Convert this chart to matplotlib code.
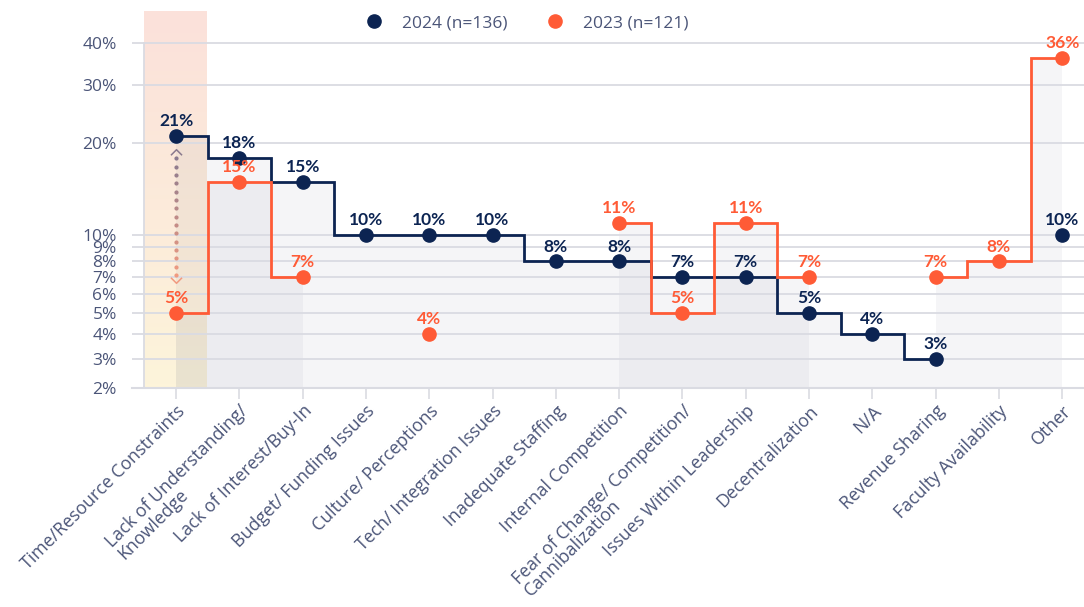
import numpy as np
import matplotlib
matplotlib.use("Agg")
import matplotlib.pyplot as plt
from matplotlib.path import Path
from matplotlib.colors import to_rgb

categories = [
    "Time/Resource Constraints",
    "Lack of Understanding/\nKnowledge",
    "Lack of Interest/Buy-In",
    "Budget/ Funding Issues",
    "Culture/ Perceptions",
    "Tech/ Integration Issues",
    "Inadequate Staffing",
    "Internal Competition",
    "Fear of Change/ Competition/\nCannibalization",
    "Issues Within Leadership",
    "Decentralization",
    "N/A",
    "Revenue Sharing",
    "Faculty Availability",
    "Other",
]
nan = np.nan
values_2024 = [21, 18, 15, 10, 10, 10, 8, 8, 7, 7, 5, 4, 3, nan, 10]
values_2023 = [5, 15, 7, nan, 4, nan, nan, 11, 5, 11, 7, nan, 7, 8, 36]
yticks = [2, 3, 4, 5, 6, 7, 8, 9, 10, 20, 30, 40]

NAVY = "#0c2452"
ORANGE = "#ff5b36"
TEXT = "#4b5578"
GRID = "#dadbe2"
FILL = "#5c6480"

plt.rcParams["font.family"] = ["Open Sans", "DejaVu Sans"]


def fwd(v):
    return np.log10(np.maximum(np.asarray(v, dtype=float) + 3, 1e-6))


def inv(u):
    return 10 ** np.asarray(u, dtype=float) - 3


def runs(vals):
    # split a series into runs of consecutive values (gaps are nan)
    out, cur = [], []
    for i, v in enumerate(vals):
        if np.isnan(v):
            if cur:
                out.append(cur)
            cur = []
        else:
            cur.append(i)
    if cur:
        out.append(cur)
    return out


fig = plt.figure(figsize=(10.84, 6.07), dpi=100)
ax = fig.add_axes([0.1218, 0.3608, 0.8782, 0.6212])
ax.set_yscale("function", functions=(fwd, inv))

x = np.arange(len(categories))

# highlighted first column
grad = np.zeros((100, 1, 3))
top, bot = np.array(to_rgb("#fbe1da")), np.array(to_rgb("#fdf4da"))
for i in range(100):
    t = i / 99
    grad[i, 0] = top * (1 - t) + bot * t
ax.imshow(grad, extent=(-0.5, 0.5, 0, 1), transform=ax.get_xaxis_transform(),
          aspect="auto", origin="upper", zorder=0)
ax.plot([-0.5, -0.5], [2, 40], color=GRID, lw=1.3, zorder=1)

for vals, color in [(values_2024, NAVY), (values_2023, ORANGE)]:
    arr = np.array(vals, dtype=float)
    for r in runs(vals):
        xs, ys = x[r], arr[r]
        if len(r) > 1:
            ax.fill_between(xs, ys, 0, step="mid", color=FILL, alpha=0.06,
                            lw=0, zorder=1)
            ax.plot(xs, ys, drawstyle="steps-mid", color=color, lw=2.0,
                    zorder=4, solid_joinstyle="miter")
    ax.plot(x, arr, "o", color=color, ms=9.5, zorder=5, ls="none")
    for xi, v in zip(x, arr):
        if np.isnan(v):
            continue
        ax.annotate(f"{v:.0f}%", (xi, v), xytext=(0, 5), textcoords="offset points",
                    ha="center", va="bottom", color=color, fontsize=12.5,
                    fontweight="bold", family=["Lato", "DejaVu Sans"], zorder=6)

# dotted gap indicator on the first column
y0, y1 = 17.9, 7.1
n = 15
ys = inv(np.linspace(fwd(y0), fwd(y1), n))
c0, c1 = np.array(to_rgb("#8a7a8e")), np.array(to_rgb("#f19a80"))
for k, yy in enumerate(ys):
    t = k / (n - 1)
    ax.plot(0, yy, "o", ms=2.0, color=c0 * (1 - t) + c1 * t, zorder=3)
chev_up = Path([(-1, -0.5), (0, 0.5), (1, -0.5)], [Path.MOVETO, Path.LINETO, Path.LINETO])
chev_dn = Path([(-1, 0.5), (0, -0.5), (1, 0.5)], [Path.MOVETO, Path.LINETO, Path.LINETO])
ax.plot(0, 18.8, marker=chev_up, ms=8, mfc="none", mec=c0, mew=1.1, zorder=3)
ax.plot(0, 6.83, marker=chev_dn, ms=8, mfc="none", mec=c1, mew=1.1, zorder=3)

ax.set_xlim(-0.695, 14.345)
ax.set_ylim(2, 49.4)
ax.set_yticks(yticks)
ax.set_yticklabels([f"{v}%" for v in yticks])
ax.yaxis.set_minor_locator(matplotlib.ticker.NullLocator())
ax.grid(axis="y", color=GRID, lw=1.3, zorder=2)
ax.set_axisbelow(False)
for s in ["top", "right", "left"]:
    ax.spines[s].set_visible(False)
ax.spines["bottom"].set_color(GRID)
ax.spines["bottom"].set_linewidth(1.5)
ax.spines["bottom"].set_zorder(2)
ax.tick_params(axis="y", length=0, pad=11, labelsize=12.5, labelcolor=TEXT)
ax.tick_params(axis="x", length=8, width=1.2, color=GRID, pad=2,
               labelsize=12.8, labelcolor=TEXT)
ax.set_xticks(x)
ax.set_xticklabels(categories, rotation=45, ha="right", va="top",
                   rotation_mode="anchor", multialignment="left",
                   linespacing=0.9)
for g in ax.get_ygridlines():
    g.set_zorder(2)

handles = [
    plt.Line2D([], [], marker="o", ls="none", color=NAVY, ms=9.5),
    plt.Line2D([], [], marker="o", ls="none", color=ORANGE, ms=9.5),
]
fig.legend(handles, ["2024 (n=136)", "2023 (n=121)"], loc="center",
           bbox_to_anchor=(0.482, 0.962), ncol=2, frameon=False,
           fontsize=12.5, labelcolor=TEXT, handletextpad=0.6,
           columnspacing=1.75)

fig.savefig("out.png", dpi=100)
